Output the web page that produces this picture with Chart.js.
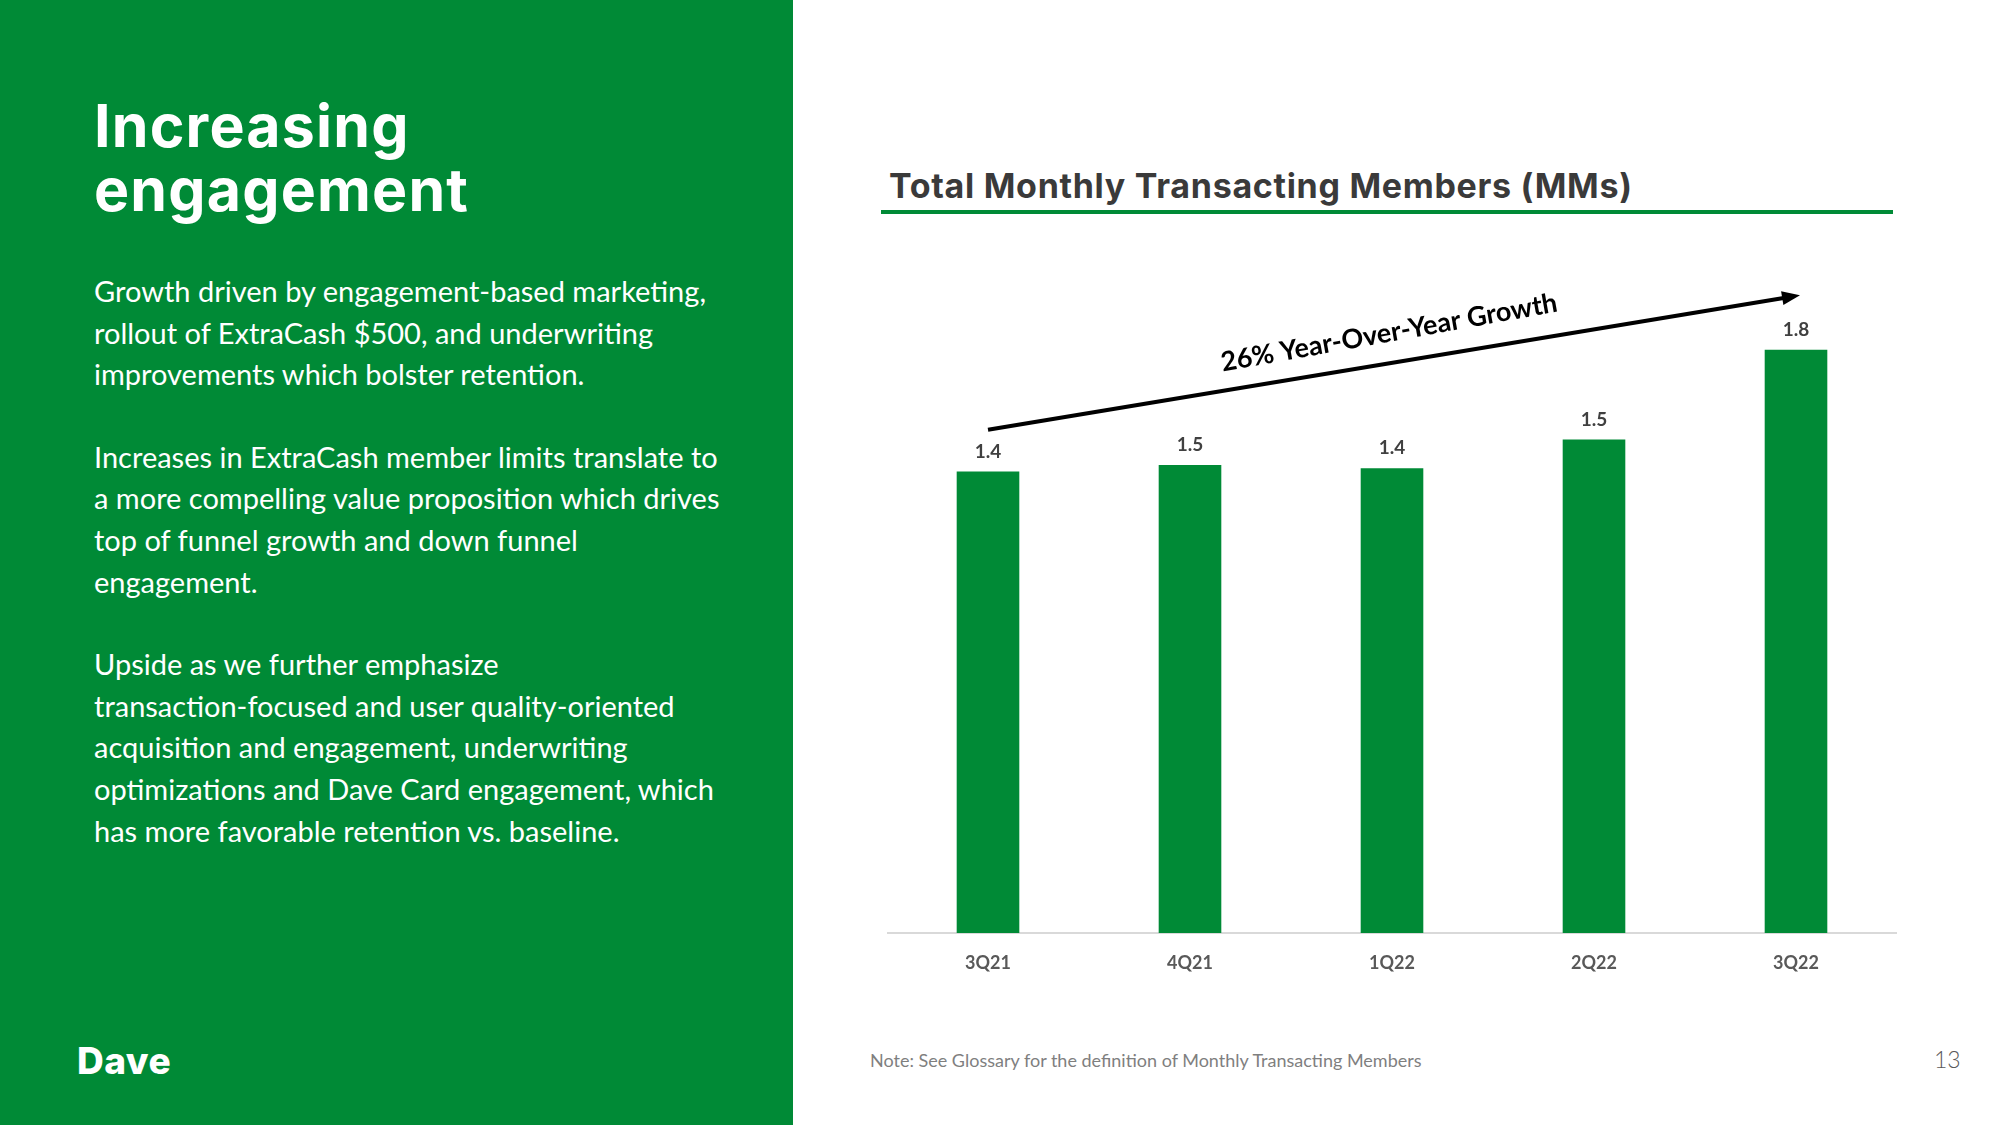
<!DOCTYPE html>
<html>
<head>
<meta charset="utf-8">
<script src="https://cdn.jsdelivr.net/npm/chart.js@4"></script>
<style>
  html, body { margin: 0; padding: 0; }
  body { width: 2000px; height: 1125px; position: relative; background: #fff; overflow: hidden; font-family: Lato, "Noto Sans", sans-serif; }
  .panel { position: absolute; left: 0; top: 0; width: 793px; height: 1125px; background: #008A36; }
  .heading { position: absolute; left: 94px; top: 94px; color: #fff; font-family: Inter, sans-serif; font-weight: 700; font-size: 59px; line-height: 64px; letter-spacing: 1.2px; }
  .body { position: absolute; left: 94px; top: 270px; color: #fff; font-size: 29px; line-height: 41.6px; white-space: nowrap; }
  .body p { margin: 0 0 41px 0; }
  .logo { position: absolute; left: 77px; top: 1038px; color: #fff; font-family: Inter, sans-serif; font-weight: 800; font-size: 37px; letter-spacing: 0.5px; }
  .chart-title { position: absolute; left: 889px; top: 166px; color: #3a3a3a; font-family: Inter, sans-serif; font-weight: 700; font-size: 34px; line-height: 40px; letter-spacing: 0.7px; }
  .rule { position: absolute; left: 881px; top: 210px; width: 1012px; height: 4px; background: #008A36; }
  .chart-box { position: absolute; left: 887px; top: 240px; width: 1010px; height: 735px; }
  .note { position: absolute; left: 870px; top: 1049px; color: #7f7f7f; font-size: 18px; }
  .page { position: absolute; left: 1934px; top: 1045px; color: #595959; font-size: 23px; font-weight: 300; }
</style>
</head>
<body>
<div class="panel"></div>
<div class="heading">Increasing<br>engagement</div>
<div class="body">
  <p>Growth driven by engagement-based marketing,<br>rollout of ExtraCash $500, and underwriting<br>improvements which bolster retention.</p>
  <p>Increases in ExtraCash member limits translate to<br>a more compelling value proposition which drives<br>top of funnel growth and down funnel<br>engagement.</p>
  <p>Upside as we further emphasize<br>transaction-focused and user quality-oriented<br>acquisition and engagement, underwriting<br>optimizations and Dave Card engagement, which<br>has more favorable retention vs. baseline.</p>
</div>
<div class="logo">Dave</div>

<div class="chart-title">Total Monthly Transacting Members (MMs)</div>
<div class="rule"></div>
<div class="chart-box"><canvas id="members-chart"></canvas></div>
<div class="note">Note: See Glossary for the definition of Monthly Transacting Members</div>
<div class="page">13</div>

<script>
const quarters = ['3Q21', '4Q21', '1Q22', '2Q22', '3Q22'];
const members = [1.44, 1.46, 1.45, 1.54, 1.82];
const growthText = '26% Year-Over-Year Growth';
const arrowValues = [1.57, 1.99]; // arrow height (in MMs) over first and last bar

const green = '#008A36';

// value labels above each bar
const barLabels = {
  id: 'barLabels',
  afterDatasetsDraw(chart) {
    const ctx = chart.ctx;
    ctx.save();
    ctx.font = 'bold 19px Lato, sans-serif';
    ctx.fillStyle = '#404040';
    ctx.textAlign = 'center';
    ctx.textBaseline = 'middle';
    chart.getDatasetMeta(0).data.forEach((bar, i) => {
      ctx.fillText(members[i].toFixed(1), bar.x, bar.y - 20);
    });
    ctx.restore();
  }
};

// growth arrow from the first to the last quarter
const growthArrow = {
  id: 'growthArrow',
  afterDatasetsDraw(chart) {
    const x = chart.scales.x, y = chart.scales.y;
    const x0 = x.getPixelForValue(0), y0 = y.getPixelForValue(arrowValues[0]);
    const x1 = x.getPixelForValue(quarters.length - 1) + 4, y1 = y.getPixelForValue(arrowValues[1]);
    const ang = Math.atan2(y1 - y0, x1 - x0);
    const ctx = chart.ctx;
    ctx.save();
    ctx.strokeStyle = '#000';
    ctx.fillStyle = '#000';
    ctx.lineWidth = 4;
    ctx.beginPath();
    ctx.moveTo(x0, y0);
    ctx.lineTo(x1 - 12 * Math.cos(ang), y1 - 12 * Math.sin(ang));
    ctx.stroke();
    ctx.translate(x1, y1);
    ctx.rotate(ang);
    ctx.beginPath();
    ctx.moveTo(0, 0);
    ctx.lineTo(-18, -7);
    ctx.lineTo(-18, 7);
    ctx.closePath();
    ctx.fill();
    ctx.restore();

    // label sitting on the arrow
    const t = 0.5;
    const mx = x0 + (x1 - x0) * t, my = y0 + (y1 - y0) * t;
    ctx.save();
    ctx.translate(mx + 30 * Math.sin(ang), my - 30 * Math.cos(ang));
    ctx.rotate(ang * 1.08);
    ctx.font = 'bold 27px Lato, sans-serif';
    ctx.fillStyle = '#000';
    ctx.textAlign = 'center';
    ctx.textBaseline = 'middle';
    ctx.fillText(growthText, 0, 0);
    ctx.restore();
  }
};

document.addEventListener('DOMContentLoaded', () => {
  const ctx = document.getElementById('members-chart').getContext('2d');
  new Chart(ctx, {
    type: 'bar',
    data: {
      labels: quarters,
      datasets: [{
        data: members,
        backgroundColor: green,
        barPercentage: 0.31,
        categoryPercentage: 1.0
      }]
    },
    options: {
      responsive: true,
      maintainAspectRatio: false,
      animation: false,
      layout: { padding: { top: 52, left: 0, right: 0, bottom: 0 } },
      plugins: { legend: { display: false }, tooltip: { enabled: false } },
      scales: {
        x: {
          grid: { display: false, drawTicks: false },
          border: { display: true, color: '#d9d9d9', width: 2 },
          ticks: { color: '#595959', padding: 19, font: { family: 'Lato', weight: 'bold', size: 18 } },
          afterFit(scale) { scale.height = 42; }
        },
        y: { display: false, min: 0, max: 2.0 }
      }
    },
    plugins: [barLabels, growthArrow]
  });
});
</script>
</body>
</html>
